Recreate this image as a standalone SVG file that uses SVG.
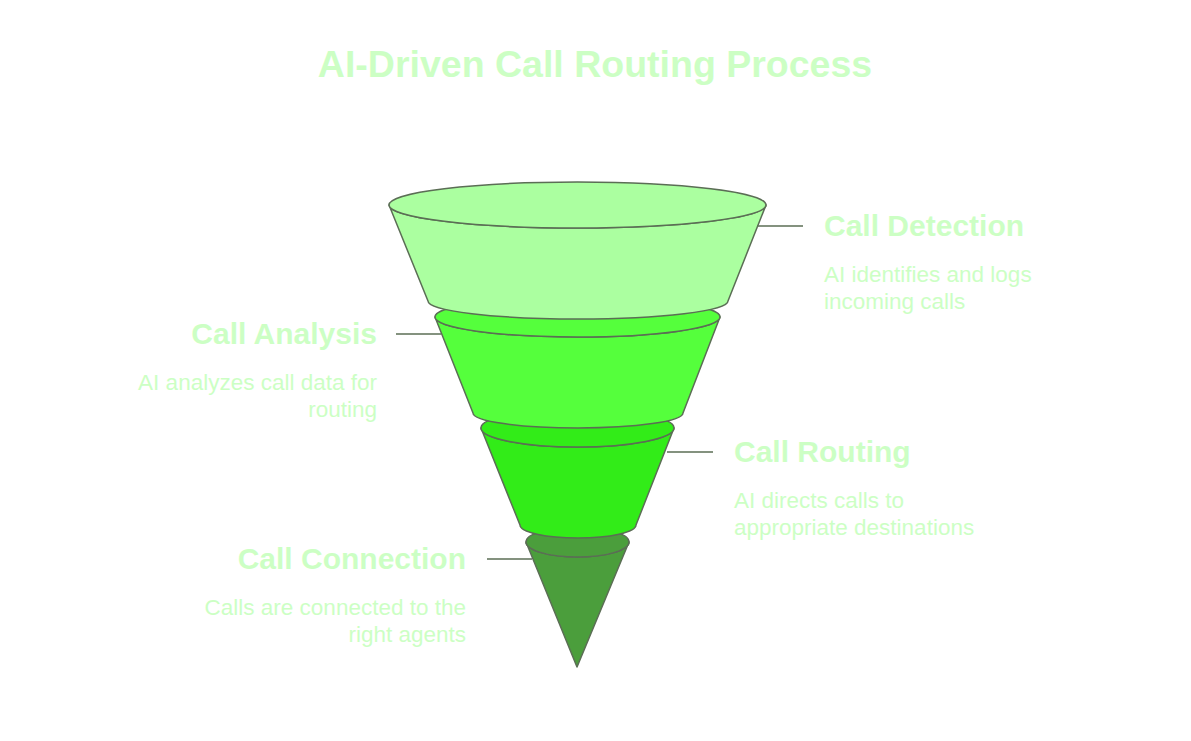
<svg xmlns="http://www.w3.org/2000/svg" width="1191" height="741" viewBox="0 0 1191 741">
<style>
.seg{stroke:#5b6e55;stroke-width:1.5;stroke-linejoin:round}
.s1{fill:#abffa0}.s2{fill:#55ff3c}.s3{fill:#32ec18}.s4{fill:#4b9e3c}
.conn line{stroke:#5b6e55;stroke-width:1.5}
text{font-family:"Liberation Sans",Arial,sans-serif;fill:#ccffc4}
.title{font-size:37.5px;font-weight:bold;text-anchor:middle}
.h{font-size:30px;font-weight:bold}
.d{font-size:22.5px}
.r{text-anchor:end}
</style>
<rect width="1191" height="741" fill="#ffffff"/>
<text class="title" x="595" y="77">AI-Driven Call Routing Process</text>
<g id="seg4">
<path class="seg s4" d="M526,542 L577,667 L629,542 A51.5,15 0 0 1 526,542 Z"/>
<ellipse class="seg s4" cx="577.5" cy="542" rx="51.5" ry="15"/>
</g>
<g id="seg3">
<path class="seg s3" d="M481,428 L520,525 A58,13 0 0 0 636,525 L674,428 A96.5,19 0 0 1 481,428 Z"/>
<ellipse class="seg s3" cx="577.5" cy="428" rx="96.5" ry="19"/>
</g>
<g id="seg2">
<path class="seg s2" d="M435,317 L473,413 A105,15 0 0 0 683,413 L720,317 A142.5,20 0 0 1 435,317 Z"/>
<ellipse class="seg s2" cx="577.5" cy="317" rx="142.5" ry="20"/>
</g>
<g id="seg1">
<path class="seg s1" d="M389,205 L428,301 A150,18 0 0 0 728,301 L766,205 A188.5,23 0 0 1 389,205 Z"/>
<ellipse class="seg s1" cx="577.5" cy="205" rx="188.5" ry="23"/>
</g>
<g id="connectors" class="conn">
<line x1="757" y1="226" x2="803" y2="226"/>
<line x1="396" y1="334" x2="441" y2="334"/>
<line x1="667" y1="452" x2="713" y2="452"/>
<line x1="487" y1="559" x2="532" y2="559"/>
</g>
<g id="label-detection">
<text class="h" x="824" y="236">Call Detection</text>
<text class="d" x="824" y="282">AI identifies and logs</text>
<text class="d" x="824" y="309">incoming calls</text>
</g>
<g id="label-analysis">
<text class="h r" x="377" y="344">Call Analysis</text>
<text class="d r" x="377" y="390">AI analyzes call data for</text>
<text class="d r" x="377" y="417">routing</text>
</g>
<g id="label-routing">
<text class="h" x="734" y="462">Call Routing</text>
<text class="d" x="734" y="508">AI directs calls to</text>
<text class="d" x="734" y="535">appropriate destinations</text>
</g>
<g id="label-connection">
<text class="h r" x="466" y="569">Call Connection</text>
<text class="d r" x="466" y="615">Calls are connected to the</text>
<text class="d r" x="466" y="642">right agents</text>
</g>
</svg>
